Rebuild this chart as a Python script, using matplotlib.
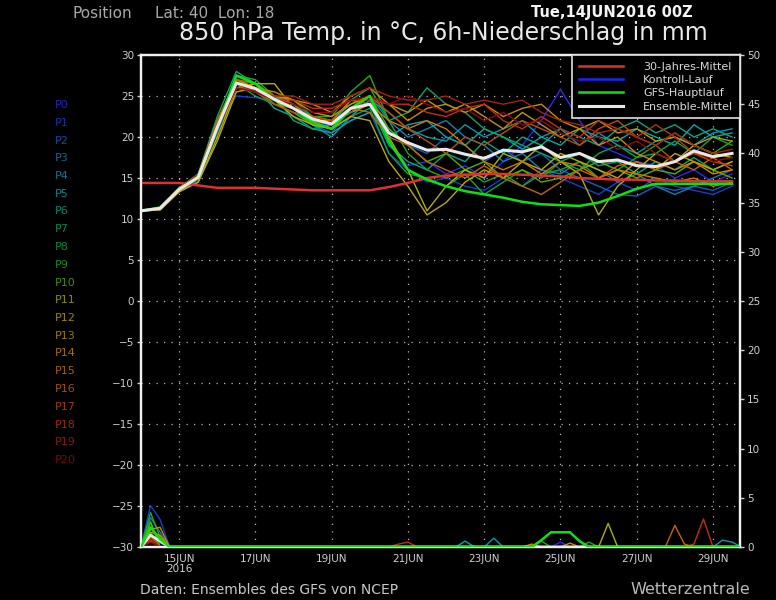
import numpy as np
import matplotlib
matplotlib.use("Agg")
import matplotlib.pyplot as plt

# forecast hours, 12-hourly from 14JUN2016 00Z
hours = np.arange(0, 384, 12)

# 850 hPa temperature of the 21 ensemble members (P0 = control run)
p0 = [11.0, 11.2, 13.5, 15.0, 21.0, 26.0, 25.5, 24.0, 23.0, 22.0, 21.0, 22.5,
      24.5, 19.0, 16.5, 17.0, 15.5, 16.5, 15.0, 17.0, 19.0, 22.0, 25.8, 22.0, 19.0, 18.0, 17.0, 16.5, 15.0, 16.0, 14.5, 15.5]
p1 = [11.0, 11.4, 13.8, 15.3, 21.5, 25.0, 24.8, 24.5, 23.5, 22.5, 21.0, 22.0,
      23.0, 18.0, 16.0, 14.5, 15.0, 14.0, 13.5, 15.0, 14.0, 16.0, 15.0, 14.0, 13.0, 14.5, 13.5, 15.0, 14.0, 13.5, 13.0, 14.0]
p2 = [11.0, 11.3, 13.6, 15.0, 20.5, 26.5, 26.0, 24.0, 23.0, 21.5, 20.5, 23.5,
      24.0, 21.0, 19.0, 18.0, 20.0, 19.0, 17.0, 18.5, 17.0, 18.0, 16.0, 15.0, 14.0, 13.0, 12.8, 14.0, 13.5, 14.0, 13.5, 14.5]
p3 = [11.0, 11.2, 13.4, 14.8, 21.0, 27.0, 26.5, 25.0, 24.0, 22.5, 22.0, 24.0,
      25.0, 22.0, 20.0, 21.0, 22.0, 20.0, 19.0, 17.0, 18.0, 16.0, 15.5, 17.0, 16.0, 14.5, 15.5, 14.0, 13.0, 14.0, 15.0, 16.0]
p4 = [11.0, 11.3, 13.7, 15.4, 22.0, 26.5, 25.5, 25.0, 23.5, 21.5, 20.0, 22.5,
      24.5, 23.0, 21.0, 20.0, 19.5, 21.5, 20.0, 21.0, 22.0, 20.0, 21.0, 19.0, 20.5, 19.0, 18.0, 19.5, 20.0, 19.0, 20.5, 21.0]
p5 = [11.0, 11.1, 13.5, 15.2, 21.5, 27.0, 26.0, 23.5, 22.5, 21.0, 20.5, 22.0,
      23.0, 20.0, 21.5, 22.0, 20.0, 19.0, 21.0, 20.0, 18.5, 20.0, 19.0, 21.0, 20.0, 19.5, 21.0, 20.0, 19.0, 21.5, 20.0, 20.5]
p6 = [11.0, 11.3, 13.6, 15.0, 21.0, 27.5, 26.5, 24.5, 24.0, 22.0, 21.5, 23.0,
      24.0, 19.0, 17.0, 16.0, 18.0, 17.0, 19.5, 18.0, 20.0, 19.0, 21.0, 20.0, 19.0, 21.0, 22.0, 20.5, 21.5, 20.0, 21.0, 20.0]
p7 = [11.0, 11.2, 13.8, 15.5, 22.5, 28.0, 26.5, 25.0, 22.0, 21.0, 21.5, 24.5,
      26.0, 22.0, 23.0, 26.0, 24.0, 23.0, 21.0, 20.0, 19.0, 18.0, 17.0, 18.0, 16.5, 17.0, 15.5, 17.0, 16.0, 17.5, 16.0, 17.0]
p8 = [11.0, 11.4, 13.5, 15.0, 21.0, 26.5, 25.0, 24.0, 23.5, 21.5, 21.0, 22.5,
      23.5, 18.0, 15.5, 15.0, 14.0, 15.5, 13.0, 14.5, 16.0, 15.0, 17.0, 16.0, 18.0, 19.0, 17.5, 18.0, 19.5, 18.0, 20.0, 19.0]
p9 = [11.0, 11.3, 13.6, 15.2, 21.5, 27.5, 27.0, 25.0, 24.5, 22.5, 22.5, 25.5,
      27.5, 22.0, 18.0, 16.0, 15.0, 16.0, 14.5, 15.5, 14.0, 15.5, 16.0, 17.0, 15.0, 16.0, 17.5, 19.0, 20.5, 19.0, 18.0, 19.5]
p10 = [11.0, 11.2, 13.7, 15.3, 21.0, 27.0, 26.0, 24.0, 23.0, 21.5, 21.0, 23.5,
       25.0, 21.0, 19.0, 17.0, 18.0, 16.0, 17.0, 15.0, 16.0, 14.5, 15.0, 16.0, 17.0, 16.0, 15.0, 16.0, 15.5, 17.0, 16.0, 15.0]
p11 = [11.0, 11.3, 13.4, 14.5, 20.0, 26.0, 26.5, 26.5, 23.5, 22.0, 22.0, 23.0,
       24.0, 20.0, 16.0, 11.0, 14.0, 16.0, 15.0, 18.0, 17.0, 19.0, 17.0, 15.5, 10.5, 14.0, 16.0, 18.0, 17.0, 19.0, 18.0, 17.5]
p12 = [11.0, 11.1, 13.3, 14.5, 19.5, 25.5, 26.0, 24.5, 22.5, 21.5, 21.0, 22.5,
       22.0, 17.0, 14.0, 10.5, 12.0, 14.5, 16.0, 15.0, 17.0, 16.0, 18.0, 17.0, 16.0, 15.0, 17.0, 16.0, 18.0, 17.0, 16.0, 17.0]
p13 = [11.0, 11.3, 13.6, 15.0, 21.0, 26.5, 25.5, 25.0, 24.5, 23.0, 22.5, 24.0,
       25.0, 24.0, 23.0, 24.5, 23.0, 24.0, 22.5, 21.0, 23.0, 21.5, 20.0, 21.0, 22.0, 20.5, 21.0, 19.5, 20.0, 19.0, 20.0, 19.5]
p14 = [11.0, 11.4, 13.8, 15.4, 22.0, 27.0, 26.0, 25.5, 24.5, 24.0, 23.0, 25.0,
       26.0, 24.0, 22.0, 23.5, 24.0, 23.0, 24.0, 22.5, 23.5, 24.0, 22.0, 21.0, 19.0, 20.0, 18.0, 17.0, 16.0, 17.0, 15.5, 16.0]
p15 = [11.0, 11.2, 13.5, 15.1, 21.5, 26.5, 26.0, 24.5, 23.5, 22.5, 22.0, 24.5,
       24.0, 22.0, 21.0, 22.0, 21.0, 19.0, 17.0, 16.0, 17.0, 15.5, 17.0, 16.5, 15.0, 16.0, 15.5, 15.0, 14.5, 15.0, 14.0, 14.5]
p16 = [11.0, 11.3, 13.7, 15.3, 22.0, 27.0, 26.5, 25.0, 24.0, 22.0, 21.5, 23.5,
       23.0, 20.0, 19.0, 17.0, 16.0, 15.0, 16.5, 15.0, 14.0, 13.0, 14.5, 16.0, 15.0, 16.5, 17.0, 16.0, 17.0, 16.0, 17.5, 16.0]
p17 = [11.0, 11.2, 13.6, 15.2, 21.5, 26.0, 25.5, 24.0, 23.0, 22.5, 22.0, 23.0,
       25.0, 23.0, 21.0, 19.5, 18.0, 20.0, 19.0, 20.5, 22.0, 21.0, 20.0, 19.0, 21.0, 22.0, 20.0, 19.0, 17.0, 18.0, 17.0, 16.5]
p18 = [11.0, 11.3, 13.5, 15.0, 21.0, 26.5, 26.0, 24.5, 24.5, 23.5, 23.5, 24.5,
       24.5, 24.0, 24.0, 23.0, 22.5, 23.5, 24.0, 22.0, 21.0, 22.5, 21.0, 20.0, 22.0, 21.0, 20.0, 21.5, 20.0, 18.0, 17.5, 18.0]
p19 = [11.0, 11.2, 13.7, 15.4, 21.5, 26.5, 25.5, 25.0, 25.0, 24.0, 24.0, 25.0,
       26.0, 25.0, 24.5, 24.5, 25.0, 24.0, 24.5, 24.0, 24.5, 23.0, 22.0, 21.5, 20.5, 21.0, 20.0, 19.0, 20.5, 19.0, 18.0, 18.5]
p20 = [11.0, 11.3, 13.6, 15.2, 21.0, 26.0, 25.5, 24.5, 24.0, 23.0, 23.0, 24.5,
       25.0, 24.0, 25.0, 24.0, 23.0, 23.5, 22.0, 23.0, 21.5, 22.0, 20.5, 19.5, 20.0, 18.5, 19.5, 18.0, 17.0, 18.5, 17.0, 17.5]
members = [p0, p1, p2, p3, p4, p5, p6, p7, p8, p9, p10,
           p11, p12, p13, p14, p15, p16, p17, p18, p19, p20]

gfs_main = [11.0, 11.4, 13.7, 15.0, 21.0, 27.5, 26.5, 24.5, 23.5, 21.8, 21.0, 23.5,
            25.0, 19.5, 16.0, 14.8, 14.0, 13.4, 13.0, 12.6, 12.1, 11.8, 11.7, 11.6, 12.0, 12.8, 13.7, 14.3, 14.3, 14.3, 14.3, 14.3]
ens_mean = [11.0, 11.3, 13.6, 15.1, 21.2, 26.6, 25.9, 24.6, 23.5, 22.2, 21.6, 23.5,
            24.0, 20.5, 19.3, 18.4, 18.5, 17.9, 17.4, 18.4, 18.2, 18.8, 17.5, 18.0, 17.0, 17.2, 16.5, 16.4, 17.0, 18.3, 17.6, 18.0]
clim_30y = [14.4, 14.4, 14.4, 14.1, 13.8, 13.8, 13.8, 13.7, 13.6, 13.5, 13.5, 13.5,
            13.5, 13.9, 14.4, 15.0, 15.3, 15.4, 15.5, 15.5, 15.4, 15.3, 15.2, 15.0, 14.9, 14.8, 14.8, 14.7, 14.7, 14.6, 14.6, 14.6]

# 6h precipitation, 6-hourly; only the non-zero values are listed
precip_hours = np.arange(0, 384, 6)
rain_member = [0, 0, 1, 1, 2, 3, 3, 4, 5, 6, 7, 8, 9, 9, 10, 11, 12, 13, 13, 14, 14, 15, 16, 17, 18, 19, 20,
               18, 18, 5, 4, 14, 9, 0, 14, 9, 11, 16, 16, 18, 18, 4, 4]
rain_hour = [6, 12, 6, 12, 6, 6, 12, 6, 6, 6, 6, 6, 6, 12, 6, 6, 6, 6, 12, 6, 12, 6, 6, 6, 6, 6, 6,
             162, 168, 204, 222, 246, 252, 264, 270, 282, 294, 336, 342, 348, 354, 366, 372]
rain_mm = [1.2, 0.4, 4.2, 2.8, 1.0, 3.0, 1.5, 0.8, 1.5, 0.9, 1.1, 2.6, 3.5, 1.0, 2.5, 0.9, 0.7, 1.5, 1.2, 1.8, 2.0, 0.6, 1.0, 0.8, 0.7, 0.9, 0.5,
           0.3, 0.5, 0.6, 0.9, 0.3, 0.6, 0.5, 0.4, 0.5, 2.4, 2.2, 0.3, 0.3, 2.85, 0.7, 0.5]
gfs_rain_hour = [6, 12, 252, 258, 264, 270, 276]
gfs_rain_mm = [2.0, 0.8, 0.7, 1.5, 1.5, 1.5, 0.6]
mean_rain_hour = [6, 12]
mean_rain_mm = [1.2, 0.6]

member_colors = ['#2a2af0', '#1040d0', '#1060c8', '#1080b8', '#0898b0', '#00a8a8', '#00a888',
                 '#00a868', '#00a848', '#20a820', '#50b000', '#b0b000', '#c0a800', '#c09800',
                 '#d08800', '#d07800', '#c86400', '#c04c00', '#c03010', '#a82010', '#900808']

tick_hours = [24, 72, 120, 168, 216, 264, 312, 360]
tick_labels = ['15JUN\n2016', '17JUN', '19JUN', '21JUN', '23JUN', '25JUN', '27JUN', '29JUN']

fig = plt.figure(figsize=(7.76, 6.0), dpi=100, facecolor='black')
ax = fig.add_axes([0.1817, 0.0883, 0.7719, 0.82], facecolor='black')
ax2 = ax.twinx()

# spaghetti
for temps, col in zip(members, member_colors):
    ax.plot(hours, temps, color=col, lw=1.0, zorder=2)
ax.plot(hours, clim_30y, color='#e03030', lw=1.8, zorder=3, label='30-Jahres-Mittel')
ax.plot([], [], color='#2020ff', lw=1.8, label='Kontroll-Lauf')
ax.plot(hours, gfs_main, color='#10e010', lw=1.8, zorder=4, label='GFS-Hauptlauf')
ax.plot(hours, ens_mean, color='#e8e8e8', lw=2.2, zorder=5, label='Ensemble-Mittel')

# precipitation on the right axis
for m, col in enumerate(member_colors):
    rain = np.zeros(len(precip_hours))
    for mem, h, v in zip(rain_member, rain_hour, rain_mm):
        if mem == m:
            rain[h // 6] = v
    ax2.plot(precip_hours, rain, color=col, lw=1.0, zorder=2)
rain = np.zeros(len(precip_hours))
for h, v in zip(mean_rain_hour, mean_rain_mm):
    rain[h // 6] = v
ax2.plot(precip_hours, rain, color='#e8e8e8', lw=2.0, zorder=3)
rain = np.zeros(len(precip_hours))
for h, v in zip(gfs_rain_hour, gfs_rain_mm):
    rain[h // 6] = v
ax2.plot(precip_hours, rain, color='#10e010', lw=1.8, zorder=4)

ax.set_xlim(0, 377)
ax.set_ylim(-30, 30)
ax2.set_ylim(0, 50)
ax.set_yticks(np.arange(-30, 31, 5))
ax2.set_yticks(np.arange(0, 51, 5))
ax.set_xticks(tick_hours)
ax.set_xticklabels(tick_labels)
ax.grid(True, color='#b8b8b8', linestyle=(0, (1, 5)), lw=0.9)
ax.set_axisbelow(True)

for a in (ax, ax2):
    for s in a.spines.values():
        s.set_color('#f0f0f0')
        s.set_linewidth(1.6)
ax.tick_params(axis='y', colors='#d0d0d0', labelsize=7.5, length=3, width=1, pad=2)
ax2.tick_params(axis='y', colors='#d0d0d0', labelsize=7.5, length=3, width=1, pad=2)
ax.tick_params(axis='x', colors='#d0d0d0', labelsize=7.5, length=0, pad=5)
for lab in ax.get_xticklabels():
    lab.set_linespacing(1.0)

leg = ax2.legend(*ax.get_legend_handles_labels(), loc='upper right', bbox_to_anchor=(1.0, 1.0),
                 borderaxespad=0, fontsize=8, facecolor='black', edgecolor='#e0e0e0',
                 framealpha=1, fancybox=False, handlelength=4.0, handletextpad=1.8,
                 labelspacing=0.3, borderpad=0.6, labelcolor='#d8d8d8')
leg.get_frame().set_linewidth(1.2)
leg.set_zorder(10)

# member labels on the left
for i, col in enumerate(member_colors):
    fig.text(55 / 776, 1 - (105 + i * 17.75) / 600, 'P%d' % i, color=col, alpha=0.8,
             fontsize=8, va='center', ha='left')

fig.text(72 / 776, 1 - 14 / 600, 'Position', color='#a8a8a8', fontsize=11, va='center')
fig.text(155 / 776, 1 - 14 / 600, 'Lat: 40  Lon: 18', color='#a8a8a8', fontsize=11, va='center')
fig.text(531 / 776, 1 - 13 / 600, 'Tue,14JUN2016 00Z', color='#f4f4f4', fontsize=10.5,
         fontweight='bold', va='center')
fig.text(443 / 776, 1 - 33 / 600, '850 hPa Temp. in °C, 6h-Niederschlag in mm', color='#e8e8e8',
         fontsize=17, va='center', ha='center')
fig.text(140 / 776, 1 - 590 / 600, 'Daten: Ensembles des GFS von NCEP', color='#c8c8c8', fontsize=10, va='center')
fig.text(750 / 776, 1 - 589 / 600, 'Wetterzentrale', color='#b8b8b8', fontsize=11.5, va='center', ha='right')

fig.savefig('out.png', dpi=100, facecolor='black')
